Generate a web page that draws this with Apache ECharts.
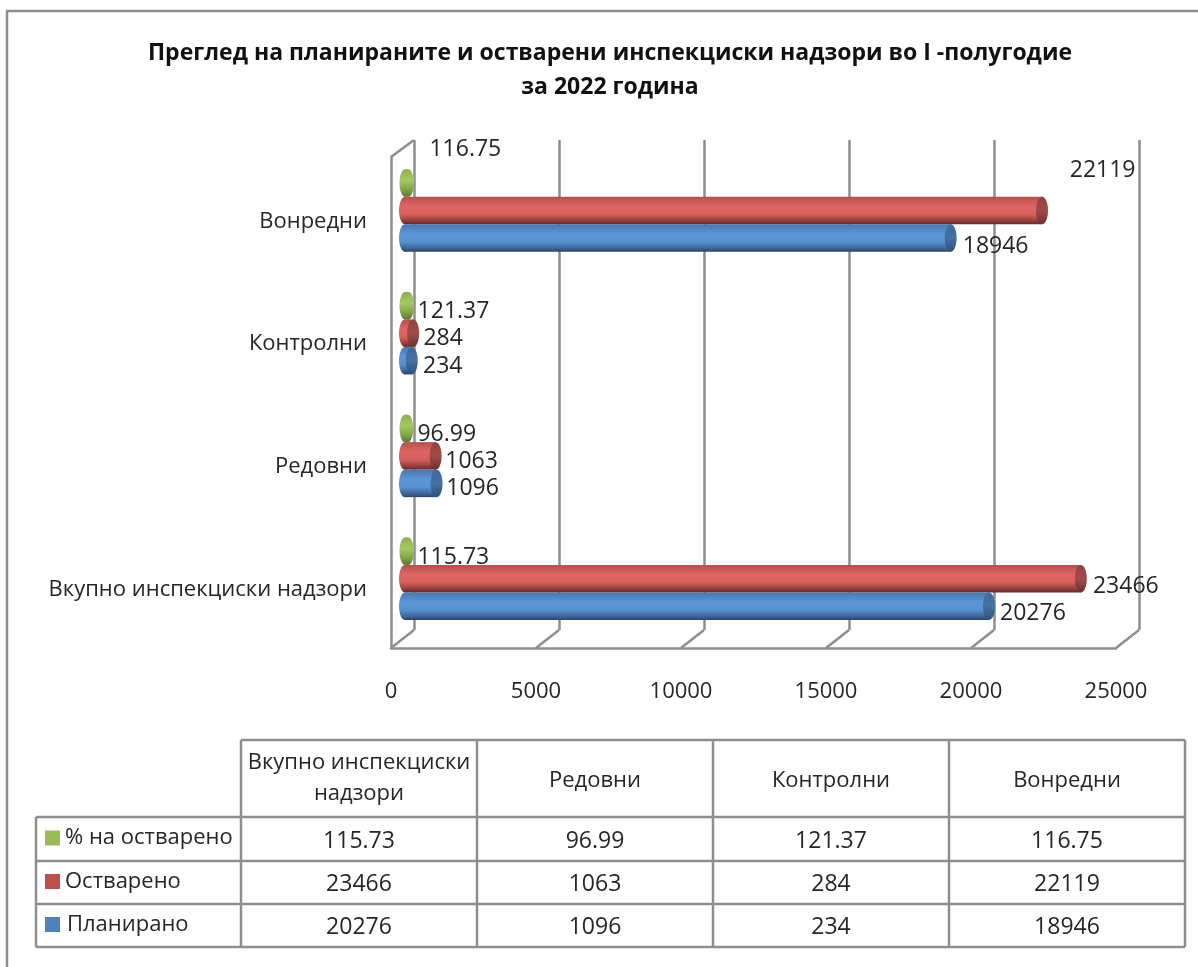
<!DOCTYPE html>
<html>
<head>
<meta charset="utf-8">
<style>
html, body { margin: 0; padding: 0; background: #fff; }
#main { width: 1198px; height: 967px; }
</style>
</head>
<body>
<div id="main"></div>
<script src="https://cdn.jsdelivr.net/npm/echarts@6/dist/echarts.min.js"></script>
<script>
var categories = ['Вкупно инспекциски надзори', 'Редовни', 'Контролни', 'Вонредни'];
var planned = [20276, 1096, 234, 18946];
var realized = [23466, 1063, 284, 22119];
var percent = [115.73, 96.99, 121.37, 116.75];
var percentText = ['115.73', '96.99', '121.37', '116.75'];
var xTicks = [0, 5000, 10000, 15000, 20000, 25000];
var rowNames = ['% на остварено', 'Остварено', 'Планирано'];

// the value labels sit by hand in the original, so each one has its own nudge
var plannedNudge = [[44, 7], [36, 5], [31, 6], [45, 9]];
var realizedNudge = [[45, 7.5], [36, 5.5], [30, 5.5], [60.6, -39.5]];
var percentNudge = [[45, 6], [39, 6], [45, 6], [57, -33]];

var FONT = '"Open Sans", sans-serif';
var LINE = '#8e8e8e';
var TEXT = '#262626';
var ROW = 27.5;

var chart = echarts.init(document.getElementById('main'));

function grad(stops) {
  return new echarts.graphic.LinearGradient(0, 0, 0, 1, stops.map(function (c) {
    return { offset: c[0], color: c[1] };
  }));
}

var blueBody = [[0, '#4a76ad'], [0.35, '#5b96d8'], [0.65, '#5890cf'], [0.9, '#3a5f8f'], [1, '#2b4566']];
var redBody = [[0, '#b0504d'], [0.35, '#e06563'], [0.65, '#d65f5c'], [0.9, '#8a3b39'], [1, '#642a29']];
var greenBody = [[0, '#8fae50'], [0.4, '#a6c963'], [0.75, '#83a247'], [1, '#5d7632']];

function cylinder(rowShift, body, cap, rx) {
  return function (params, api) {
    var p = api.coord([api.value(0), api.value(1)]);
    var start = api.coord([0, api.value(1)]);
    var y = p[1] + rowShift;
    var kids = [
      { type: 'ellipse', shape: { cx: start[0], cy: y, rx: rx, ry: ROW / 2 }, style: { fill: grad(body) } },
      { type: 'rect', shape: { x: start[0], y: y - ROW / 2, width: p[0] - start[0], height: ROW }, style: { fill: grad(body) } },
      { type: 'ellipse', shape: { cx: p[0], cy: y, rx: rx, ry: ROW / 2 }, style: { fill: grad(cap) } }
    ];
    return { type: 'group', children: kids };
  };
}

function barSeries(name, values, rowShift, body, cap, rx) {
  return {
    name: name,
    type: 'custom',
    xAxisIndex: 2,
    yAxisIndex: 2,
    z: 4,
    silent: true,
    data: values.map(function (v, i) { return [v, i]; }),
    encode: { x: 0, y: 1 },
    renderItem: cylinder(rowShift, body, cap, rx)
  };
}

function labelSeries(values, texts, rowShift, nudge) {
  return {
    type: 'custom',
    xAxisIndex: 2,
    yAxisIndex: 2,
    z: 3,
    silent: true,
    data: values.map(function (v, i) { return [v, i]; }),
    encode: { x: 0, y: 1 },
    renderItem: function (params, api) {
      var i = params.dataIndex;
      var p = api.coord([api.value(0), api.value(1)]);
      return {
        type: 'text',
        style: {
          x: p[0] + nudge[i][0],
          y: p[1] + rowShift + nudge[i][1],
          text: String(texts[i]),
          fill: TEXT,
          font: '23px ' + FONT,
          align: 'center',
          verticalAlign: 'middle'
        }
      };
    }
  };
}

// floor ticks and the top corner of the left wall
var depthSeries = {
  type: 'custom',
  xAxisIndex: 1,
  yAxisIndex: 1,
  z: 1,
  silent: true,
  data: xTicks.map(function (t) { return [t, 0]; }),
  encode: { x: 0, y: 1 },
  renderItem: function (params, api) {
    var p = api.coord([api.value(0), 0]);
    var lineStyle = { stroke: LINE, lineWidth: 2.5 };
    var kids = [{ type: 'line', shape: { x1: p[0], y1: p[1], x2: p[0] + 23, y2: p[1] - 18 }, style: lineStyle }];
    if (params.dataIndex === 0) {
      var top = api.coord([0, 1]);
      kids.push({ type: 'line', shape: { x1: top[0], y1: top[1], x2: top[0] + 23, y2: top[1] - 17 }, style: lineStyle });
    }
    return { type: 'group', children: kids };
  }
};

// data table under the chart
var colX = [241, 477, 713, 949, 1185];
var rowY = [740, 817, 861, 904, 947];
var tableLeft = 36;
var tableValues = [percentText, realized, planned];
var swatches = ['#9bbb59', '#c0504d', '#4f81bd'];
var rowTextX = [65, 65, 67];
var tableItems = [];

function hLine(x1, x2, y) {
  tableItems.push({ type: 'line', shape: { x1: x1, y1: y, x2: x2, y2: y }, style: { stroke: LINE, lineWidth: 2.5 }, z: 1 });
}
function vLine(x, y1, y2) {
  tableItems.push({ type: 'line', shape: { x1: x, y1: y1, x2: x, y2: y2 }, style: { stroke: LINE, lineWidth: 2.5 }, z: 1 });
}
function cellText(x, y, s, align, size) {
  tableItems.push({
    type: 'text',
    z: 2,
    style: { x: x, y: y, text: String(s), fill: TEXT, font: size + 'px ' + FONT, align: align, verticalAlign: 'middle' }
  });
}

hLine(colX[0], colX[4], rowY[0]);
rowY.slice(1).forEach(function (y) { hLine(tableLeft, colX[4], y); });
vLine(tableLeft, rowY[1], rowY[4]);
colX.forEach(function (x) { vLine(x, rowY[0], rowY[4]); });

categories.forEach(function (c, i) {
  var cx = (colX[i] + colX[i + 1]) / 2;
  if (i === 0) {
    cellText(cx, 763, 'Вкупно инспекциски', 'center', 22);
    cellText(cx, 794, 'надзори', 'center', 22);
  } else {
    cellText(cx, 781, c, 'center', 22);
  }
  tableValues.forEach(function (row, r) {
    cellText(cx, (rowY[r + 1] + rowY[r + 2]) / 2 + 2, row[i], 'center', 23);
  });
});
rowNames.forEach(function (name, r) {
  var cy = (rowY[r + 1] + rowY[r + 2]) / 2;
  tableItems.push({ type: 'rect', z: 2, shape: { x: 45, y: cy - 8.5, width: 15, height: 15 }, style: { fill: swatches[r] } });
  cellText(rowTextX[r], cy - 1, name, 'left', 22);
});

// picture frame, runs off the right and bottom edges
tableItems.push({
  type: 'polyline',
  z: 1,
  shape: { points: [[7, 967], [7, 11], [1198, 11]] },
  style: { stroke: LINE, lineWidth: 2.5, fill: 'none' }
});

var hiddenAxisBits = { axisLine: { show: false }, axisTick: { show: false }, axisLabel: { show: false }, splitLine: { show: false } };

var option = {
  animation: false,
  backgroundColor: '#fff',
  title: {
    text: 'Преглед на планираните и остварени инспекциски надзори во I -полугодие\nза 2022 година',
    left: 605,
    top: 31,
    textAlign: 'center',
    textStyle: { fontFamily: FONT, fontSize: 23, fontWeight: 'bold', color: '#111', lineHeight: 34 }
  },
  grid: [
    { left: 414, top: 140, width: 725, height: 490 },
    { left: 391, top: 157, width: 725, height: 491 },
    { left: 405, top: 149, width: 720, height: 491 }
  ],
  xAxis: [
    {
      gridIndex: 0, type: 'value', min: 0, max: 25000, interval: 5000,
      axisLine: { show: false }, axisTick: { show: false }, axisLabel: { show: false },
      splitLine: { show: true, lineStyle: { color: LINE, width: 2.5 } }
    },
    {
      gridIndex: 1, type: 'value', min: 0, max: 25000, interval: 5000,
      axisLine: { show: true, lineStyle: { color: LINE, width: 2.5 } },
      axisTick: { show: false },
      splitLine: { show: false },
      axisLabel: {
        color: TEXT, fontFamily: FONT, fontSize: 22, margin: 33, showMinLabel: true, showMaxLabel: true,
        formatter: function (v) { return String(v); }
      }
    },
    Object.assign({ gridIndex: 2, type: 'value', min: 0, max: 25000 }, hiddenAxisBits)
  ],
  yAxis: [
    Object.assign({ gridIndex: 0, type: 'value', min: 0, max: 1 }, hiddenAxisBits),
    {
      gridIndex: 1, type: 'value', min: 0, max: 1,
      axisLine: { show: true, lineStyle: { color: LINE, width: 2.5 } },
      axisTick: { show: false }, axisLabel: { show: false }, splitLine: { show: false }
    },
    {
      gridIndex: 2, type: 'category', data: categories,
      axisLine: { show: false }, axisTick: { show: false },
      axisLabel: { color: TEXT, fontFamily: FONT, fontSize: 22, margin: 38, verticalAlign: 'top', lineHeight: 22 }
    }
  ],
  graphic: { elements: tableItems },
  series: [
    depthSeries,
    labelSeries(percent, percentText, -ROW, percentNudge),
    labelSeries(realized, realized, 0, realizedNudge),
    labelSeries(planned, planned, ROW, plannedNudge),
    barSeries('% на остварено', percent, -ROW, greenBody, greenBody, 5.5),
    barSeries('Остварено', realized, 0, redBody, [[0, '#8f4341'], [0.5, '#a04b49'], [1, '#6d3130']], 6),
    barSeries('Планирано', planned, ROW, blueBody, [[0, '#3f6a9c'], [0.5, '#45729f'], [1, '#2f507a']], 6)
  ]
};

chart.setOption(option);
</script>
</body>
</html>
